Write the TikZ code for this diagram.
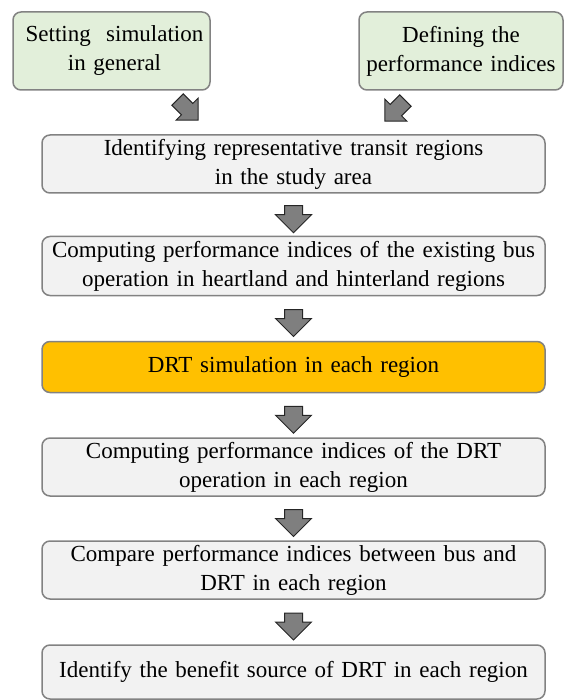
\documentclass[tikz,border=0pt]{standalone}
\usepackage{fontspec}
\setmainfont{Liberation Serif}
\usepackage{tikz}
\usetikzlibrary{shapes.arrows}
\usetikzlibrary{positioning}
\usetikzlibrary{calc}
\definecolor{boxfill}{RGB}{242,242,242}
\definecolor{boxline}{RGB}{130,130,130}
\definecolor{greenfill}{RGB}{226,239,218}
\definecolor{drtfill}{RGB}{255,192,0}
\definecolor{arrowfill}{RGB}{127,127,127}
\tikzset{stepbox/.style={draw=boxline,fill=boxfill,line width=1.5pt,rounded corners=8pt,minimum width=503pt,text width=495pt,align=center,inner sep=0pt,font=\fontsize{23}{29}\selectfont},
inputbox/.style={stepbox,fill=greenfill},
blockarrow/.style={single arrow,draw=black!85,fill=arrowfill,line width=1pt,inner xsep=0pt},
downarrow/.style={blockarrow,inner ysep=8.5pt,single arrow head extend=9pt,minimum height=27pt},
sidearrow/.style={blockarrow,inner ysep=7.5pt,single arrow head extend=7.5pt,minimum height=29pt}}

\begin{document}
\begin{tikzpicture}[x=1pt,y=-1pt]
\useasboundingbox (0,0) rectangle (563,700);

\node (setting) at (111.5,51) [inputbox,minimum width=197pt,text width=190pt,minimum height=78pt] {\hspace*{6pt}Setting\ \ simulation\\\hspace*{6pt}in general};
\node (defining) at (461,51) [inputbox,minimum width=204pt,text width=202pt,minimum height=78pt] {Defining the\\performance indices};

\node (b1) at (293.5,164) [stepbox,minimum height=58pt] {Identifying representative transit regions\\in the study area};
\node (b2) [below of=b1,node distance=102pt,stepbox,minimum height=59pt] {Computing performance indices of the existing bus\\operation in heartland and hinterland regions};
\node (b3) [below of=b2,node distance=101pt,stepbox,fill=drtfill,minimum height=51pt] {DRT simulation in each region};
\node (b4) [below of=b3,node distance=100pt,stepbox,minimum height=58pt] {Computing performance indices of the DRT\\operation in each region};
\node (b5) [below of=b4,node distance=103pt,stepbox,minimum height=58pt] {Compare performance indices between bus and\\DRT in each region};
\node (b6) [below of=b5,node distance=102pt,stepbox,minimum height=54pt] {Identify the benefit source of DRT in each region};

\node (s1) at (185,107) [sidearrow,rotate=-45] {};
\node (s2) at (398,108) [sidearrow,rotate=-135] {};

\foreach \x/\y in {1/2, 2/3, 3/4, 4/5, 5/6} {
\node (a\x) at ($(b\x.south)!0.5!(b\y.north)$) [downarrow,rotate=-90] {};
}

\end{tikzpicture}
\end{document}
